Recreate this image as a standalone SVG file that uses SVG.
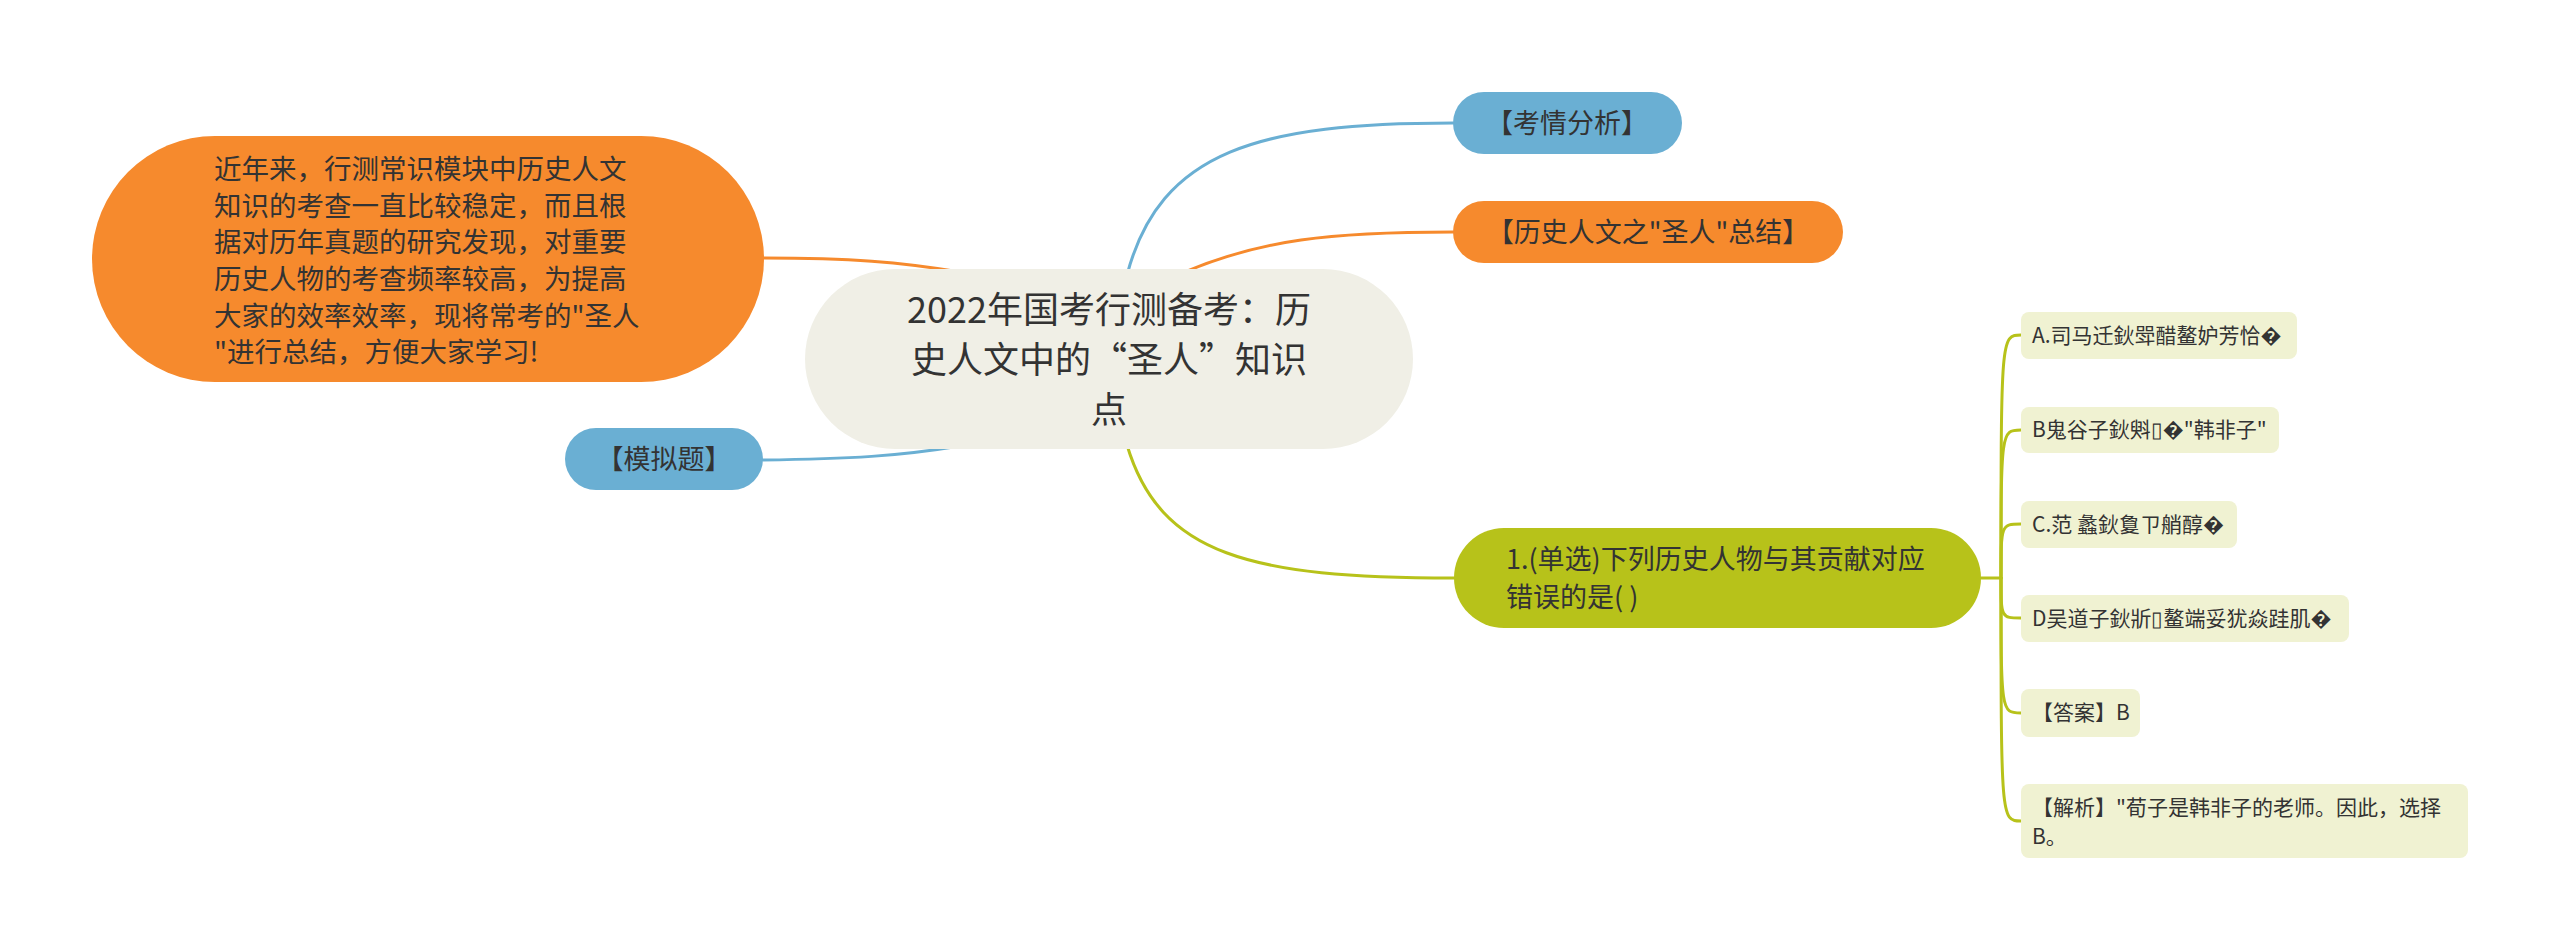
<svg xmlns="http://www.w3.org/2000/svg" width="2560" height="951" viewBox="0 0 2560 951">
<style>
text{font-family:"Noto Sans CJK SC","Noto Sans",sans-serif;fill:#333333}
.c{fill:none;stroke-width:3;stroke-linecap:round}
.blue{stroke:#6aafd3}
.orange{stroke:#f68a2d}
.green{stroke:#b7c21a}
.t27{font-size:27px}
.t28{font-size:27.5px}
.t21{font-size:21px}
.leaf{fill:#f0f2d2}
</style>
<rect width="2560" height="951" fill="#ffffff"/>
<g id="connectors">
<path class="c orange" d="M764 258 C850 258 900 262 960 272"/>
<path class="c blue" d="M763 460 C850 459 900 456 960 446"/>
<path class="c blue" d="M1127 275 C1160 150 1260 123 1453 123"/>
<path class="c orange" d="M1185 272 C1260 240 1330 232 1453 232"/>
<path class="c green" d="M1127 445 C1160 555 1250 578 1454 578"/>
<path class="c green" d="M1981 578 L2001 578"/>
<path class="c green" d="M2001 578 C2001 335 2001 335 2021 335"/>
<path class="c green" d="M2001 578 C2001 430 2001 430 2021 430"/>
<path class="c green" d="M2001 578 C2001 524 2001 524 2021 524"/>
<path class="c green" d="M2001 578 C2001 618 2001 618 2021 618"/>
<path class="c green" d="M2001 578 C2001 713 2001 713 2021 713"/>
<path class="c green" d="M2001 578 C2001 821 2001 821 2021 821"/>
</g>
<g id="root">
<rect x="805" y="269" width="608" height="180" rx="90" fill="#f0efe6"/>
<text x="1109" y="323" font-size="36" text-anchor="middle">2022年国考行测备考：历</text>
<text x="1109" y="373" font-size="36" text-anchor="middle">史人文中的“圣人”知识</text>
<text x="1109" y="423" font-size="36" text-anchor="middle">点</text>
</g>
<g id="intro">
<rect x="92" y="136" width="672" height="246" rx="123" fill="#f68a2d"/>
<text class="t28" x="214" y="179">近年来，行测常识模块中历史人文</text>
<text class="t28" x="214" y="216">知识的考查一直比较稳定，而且根</text>
<text class="t28" x="214" y="252">据对历年真题的研究发现，对重要</text>
<text class="t28" x="214" y="289">历史人物的考查频率较高，为提高</text>
<text class="t28" x="214" y="326">大家的效率效率，现将常考的"圣人</text>
<text class="t28" x="214" y="362">"进行总结，方便大家学习!</text>
</g>
<g id="mock">
<rect x="565" y="428" width="198" height="62" rx="31" fill="#6aafd3"/>
<text class="t27" x="664" y="469" text-anchor="middle">【模拟题】</text>
</g>
<g id="analysis">
<rect x="1453" y="92" width="229" height="62" rx="31" fill="#6aafd3"/>
<text class="t27" x="1567" y="133" text-anchor="middle">【考情分析】</text>
</g>
<g id="summary">
<rect x="1453" y="201" width="390" height="62" rx="31" fill="#f68a2d"/>
<text class="t27" x="1648" y="242" text-anchor="middle">【历史人文之"圣人"总结】</text>
</g>
<g id="question">
<rect x="1454" y="528" width="527" height="100" rx="50" fill="#b7c21a"/>
<text class="t27" x="1506" y="569">1.(单选)下列历史人物与其贡献对应</text>
<text class="t27" x="1506" y="607">错误的是( )</text>
</g>
<g id="optA">
<rect class="leaf" x="2021" y="312" width="276" height="47" rx="8"/>
<text class="t21" x="2032" y="343">A.司马迁鈥斝醋鳌妒芳恰�</text>
</g>
<g id="optB">
<rect class="leaf" x="2021" y="407" width="258" height="46" rx="8"/>
<text class="t21" x="2032" y="437">B鬼谷子鈥斞▯�"韩非子"</text>
</g>
<g id="optC">
<rect class="leaf" x="2021" y="501" width="216" height="47" rx="8"/>
<text class="t21" x="2032" y="532">C.范 蠡鈥敻ㄗ艄醇�</text>
</g>
<g id="optD">
<rect class="leaf" x="2021" y="595" width="328" height="47" rx="8"/>
<text class="t21" x="2032" y="626">D吴道子鈥斨▯鳌端妥犹焱跬肌�</text>
</g>
<g id="answer">
<rect class="leaf" x="2021" y="689" width="119" height="48" rx="8"/>
<text class="t21" x="2032" y="720">【答案】B</text>
</g>
<g id="explain">
<rect class="leaf" x="2021" y="784" width="447" height="74" rx="8"/>
<text class="t21" x="2032" y="815">【解析】"荀子是韩非子的老师。因此，选择</text>
<text class="t21" x="2032" y="844">B。</text>
</g>
</svg>
